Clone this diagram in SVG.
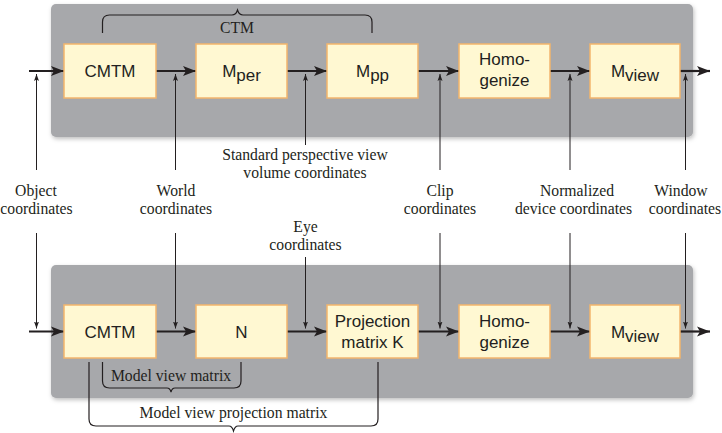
<svg xmlns="http://www.w3.org/2000/svg" width="722" height="433" viewBox="0 0 722 433">
<defs>
<filter id="sh" x="-5%" y="-5%" width="110%" height="115%">
<feDropShadow dx="1" dy="2" stdDeviation="2" flood-color="#000" flood-opacity="0.25"/>
</filter>
<marker id="big" markerUnits="userSpaceOnUse" markerWidth="14" markerHeight="12" refX="13" refY="6" orient="auto">
<path d="M0,1 L13,6 L0,11 L3,6 Z" fill="#231f20"/>
</marker>
<marker id="sm" markerUnits="userSpaceOnUse" markerWidth="8" markerHeight="8" refX="7" refY="3" orient="auto">
<path d="M0,0.5 L7,3 L0,5.5 L1.5,3 Z" fill="#231f20"/>
</marker>
<style>
.panel{fill:#a7a8ab;}
.box{fill:#fff8d2;stroke:#f3b56c;stroke-width:1.5;}
.bt{font-family:"Liberation Sans",Arial,sans-serif;font-size:17px;fill:#231f20;text-anchor:middle;}
.lbl{font-family:"Liberation Serif","Times New Roman",serif;font-size:15.7px;fill:#231f20;text-anchor:middle;}
.main{stroke:#231f20;stroke-width:2.2;fill:none;marker-end:url(#big);}
.thin{stroke:#231f20;stroke-width:1;fill:none;marker-end:url(#sm);}
.br{stroke:#231f20;stroke-width:1.2;fill:none;}
</style>
</defs>
<rect id="panel-top" class="panel" x="51" y="4" width="642" height="133" rx="5" filter="url(#sh)"/>
<rect id="panel-bottom" class="panel" x="51" y="265" width="642" height="133" rx="5" filter="url(#sh)"/>

<g id="connectors">
<line class="main" x1="29" y1="71" x2="64" y2="71"/>
<line class="main" x1="156" y1="71" x2="196" y2="71"/>
<line class="main" x1="287" y1="71" x2="327" y2="71"/>
<line class="main" x1="418" y1="71" x2="459" y2="71"/>
<line class="main" x1="550" y1="71" x2="590" y2="71"/>
<line class="main" x1="680" y1="71" x2="710" y2="71"/>
<line class="main" x1="29" y1="331.5" x2="64" y2="331.5"/>
<line class="main" x1="156" y1="331.5" x2="196" y2="331.5"/>
<line class="main" x1="287" y1="331.5" x2="327" y2="331.5"/>
<line class="main" x1="418" y1="331.5" x2="459" y2="331.5"/>
<line class="main" x1="550" y1="331.5" x2="590" y2="331.5"/>
<line class="main" x1="680" y1="331.5" x2="710" y2="331.5"/>
<line class="thin" x1="36.5" y1="170" x2="36.5" y2="74"/>
<line class="thin" x1="175.5" y1="170" x2="175.5" y2="74"/>
<line class="thin" x1="305.5" y1="145" x2="305.5" y2="74"/>
<line class="thin" x1="440" y1="170" x2="440" y2="74"/>
<line class="thin" x1="570" y1="170" x2="570" y2="74"/>
<line class="thin" x1="685.5" y1="170" x2="685.5" y2="74"/>
<line class="thin" x1="36.5" y1="233" x2="36.5" y2="328.5"/>
<line class="thin" x1="175.5" y1="233" x2="175.5" y2="328.5"/>
<line class="thin" x1="305.5" y1="257" x2="305.5" y2="328.5"/>
<line class="thin" x1="440" y1="233" x2="440" y2="328.5"/>
<line class="thin" x1="570" y1="233" x2="570" y2="328.5"/>
<line class="thin" x1="685.5" y1="233" x2="685.5" y2="328.5"/>
<path class="br" d="M102.5,33 V22 Q102.5,15 109.5,15 H232 Q236,15 237.5,10 Q239,15 243,15 H365 Q372,15 372,22 V33"/>
<path class="br" d="M102.5,362 V381 Q102.5,388 109.5,388 H167 Q170,388 171,392 Q172,388 175,388 H234 Q241,388 241,381 V362"/>
<path class="br" d="M89,362 V419 Q89,426 96,426 H229 Q232,426 233.5,431 Q235,426 238,426 H371 Q378,426 378,419 V362"/>
</g>

<g id="n-cmtm-top"><rect class="box" x="64" y="44" width="92" height="54"/><text class="bt" x="110" y="77">CMTM</text></g>
<g id="n-mper"><rect class="box" x="196" y="44" width="91" height="54"/><text class="bt" x="241.5" y="77">M<tspan dy="4">per</tspan></text></g>
<g id="n-mpp"><rect class="box" x="327" y="44" width="91" height="54"/><text class="bt" x="372.5" y="77">M<tspan dy="4">pp</tspan></text></g>
<g id="n-homog-top"><rect class="box" x="459" y="44" width="91" height="54"/><text class="bt" x="504.5" y="65">Homo-</text><text class="bt" x="504.5" y="86">genize</text></g>
<g id="n-mview-top"><rect class="box" x="590" y="44" width="90" height="54"/><text class="bt" x="635" y="77">M<tspan dy="4">view</tspan></text></g>

<g id="n-cmtm-bot"><rect class="box" x="64" y="305" width="92" height="53"/><text class="bt" x="110" y="337.5">CMTM</text></g>
<g id="n-n"><rect class="box" x="196" y="305" width="91" height="53"/><text class="bt" x="241.5" y="337.5">N</text></g>
<g id="n-proj"><rect class="box" x="327" y="305" width="91" height="53"/><text class="bt" x="372.5" y="327">Projection</text><text class="bt" x="372.5" y="348">matrix K</text></g>
<g id="n-homog-bot"><rect class="box" x="459" y="305" width="91" height="53"/><text class="bt" x="504.5" y="327">Homo-</text><text class="bt" x="504.5" y="348">genize</text></g>
<g id="n-mview-bot"><rect class="box" x="590" y="305" width="90" height="53"/><text class="bt" x="635" y="337.5">M<tspan dy="4">view</tspan></text></g>

<g id="labels">
<text class="lbl" x="237" y="33">CTM</text>
<text class="lbl" x="305" y="160">Standard perspective view</text>
<text class="lbl" x="305" y="177.5">volume coordinates</text>
<text class="lbl" x="36" y="196">Object</text>
<text class="lbl" x="36.5" y="214">coordinates</text>
<text class="lbl" x="176" y="196">World</text>
<text class="lbl" x="176" y="214">coordinates</text>
<text class="lbl" x="305.5" y="232">Eye</text>
<text class="lbl" x="305.5" y="250">coordinates</text>
<text class="lbl" x="440" y="196">Clip</text>
<text class="lbl" x="440" y="214">coordinates</text>
<text class="lbl" x="577" y="196">Normalized</text>
<text class="lbl" x="573.5" y="214">device coordinates</text>
<text class="lbl" x="681" y="196">Window</text>
<text class="lbl" x="685" y="214">coordinates</text>
<text class="lbl" x="171" y="381">Model view matrix</text>
<text class="lbl" x="233.5" y="418">Model view projection matrix</text>
</g>
</svg>
